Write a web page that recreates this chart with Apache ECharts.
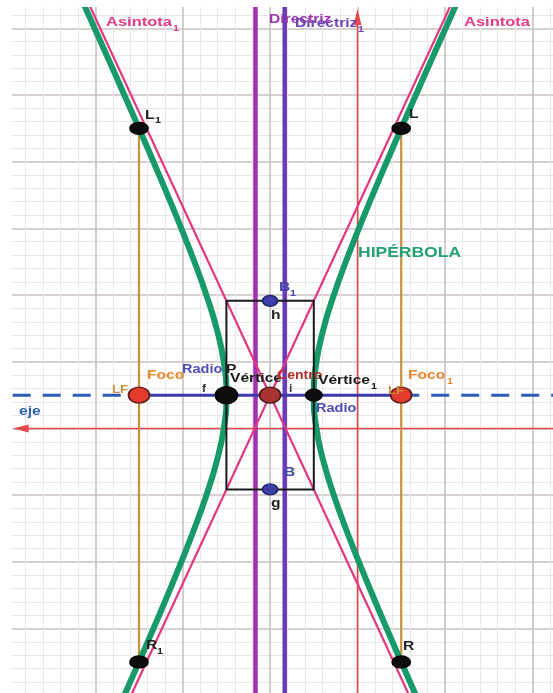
<!DOCTYPE html>
<html><head><meta charset="utf-8">
<script src="https://cdn.jsdelivr.net/npm/echarts@6/dist/echarts.min.js"></script>
<style>html,body{margin:0;padding:0;background:#fff}#c{width:553px;height:693px}</style>
</head><body><div id="c"></div>
<script>
// ---- data (grid units) ----
const center = [-1, 0.5];
const vertexP = [-1.5, 0.5];
const vertex1 = [-0.5, 0.5];
const foci = [[-2.5, 0.5], [0.5, 0.5]];
const coVertices = [[-1, 1.914], [-1, -0.914]];
const latusPoints = [[-2.5, 4.5], [0.5, 4.5], [-2.5, -3.5], [0.5, -3.5]];
const branchY = [-4, -3.5, -3, -2.5, -2, -1.5, -1, -0.5, 0, 0.5, 1, 1.5, 2, 2.5, 3, 3.5, 4, 4.5, 5, 5.5, 6, 6.5];
const rightBranchX = [0.668, 0.5, 0.335, 0.173, 0.016, -0.134, -0.271, -0.388, -0.470, -0.5, -0.470, -0.388, -0.271, -0.134, 0.016, 0.173, 0.335, 0.5, 0.668, 0.837, 1.008, 1.179];
const leftBranchX = [-2.668, -2.5, -2.335, -2.173, -2.016, -1.866, -1.729, -1.612, -1.530, -1.5, -1.530, -1.612, -1.729, -1.866, -2.016, -2.173, -2.335, -2.5, -2.668, -2.837, -3.008, -3.179];
const asintota = [[-2.591, -4], [1.121, 6.5]];
const asintota1 = [[-3.121, 6.5], [0.591, -4]];
const directrizX = -1.167;
const directriz1X = -0.833;
const boxCorners = [[-1.5, -0.914], [-0.5, -0.914], [-0.5, 1.914], [-1.5, 1.914], [-1.5, -0.914]];
const latusLeft = [[-2.5, -3.5], [-2.5, 4.5]];
const latusRight = [[0.5, -3.5], [0.5, 4.5]];
const ejeLeft = [[-3.945, 0.5], [-2.5, 0.5]];
const ejeRight = [[0.5, 0.5], [3, 0.5]];
const ejeMid = [[-2.5, 0.5], [0.5, 0.5]];
const axisXEnds = [[-3.853, 0], [3, 0]];
const axisYEnds = [[0, -4], [0, 6.17]];
const yMin = -4, yMax = 7;

const chart = echarts.init(document.getElementById('c'), null, {renderer: 'canvas'});
const zip = (xs, ys) => xs.map((x, i) => [x, ys[i]]);

function lineS(data, color, width, extra) {
  return Object.assign({
    type: 'line', data: data, showSymbol: false, symbol: 'none', silent: true,
    lineStyle: {color: color, width: width}, z: 2
  }, extra || {});
}
function pts(data, fill, size, border, z) {
  return {type: 'scatter', data: data, symbol: 'circle', symbolSize: size, silent: true, z: z || 10,
    itemStyle: {color: fill, borderColor: border, borderWidth: 1.5, opacity: 1}};
}

const series = [
  lineS([{value: axisXEnds[0], symbol: 'triangle', symbolRotate: 90, symbolSize: [8, 16]}, {value: axisXEnds[1], symbol: 'none'}],
    '#e8474d', 1.5, {showSymbol: true, itemStyle: {color: '#e8474d'}, z: 1}),
  lineS([{value: axisYEnds[0], symbol: 'none'}, {value: axisYEnds[1], symbol: 'triangle', symbolSize: [8, 16]}],
    '#e8474d', 1.5, {showSymbol: true, itemStyle: {color: '#e8474d'}, z: 1}),
  lineS(latusLeft, '#c8923c', 2.2),
  lineS(latusRight, '#c8923c', 2.2),
  lineS([[directrizX, yMin], [directrizX, yMax]], '#a032b2', 4.5, {z: 3}),
  lineS([[directriz1X, yMin], [directriz1X, yMax]], '#6a3ab8', 4.5, {z: 3}),
  lineS(zip(rightBranchX, branchY), '#17996a', 6, {smooth: true, z: 4}),
  lineS(zip(leftBranchX, branchY), '#17996a', 6, {smooth: true, z: 4}),
  lineS(asintota, '#e2367f', 2.2, {z: 5}),
  lineS(asintota1, '#e2367f', 2.2, {z: 5}),
  lineS(boxCorners, '#1a1a1a', 2, {z: 6}),
  lineS(ejeLeft, '#2c5db4', 3, {z: 6, lineStyle: {color: '#2c5db4', width: 3, type: [18, 12]}}),
  lineS(ejeRight, '#2c5db4', 3, {z: 6, lineStyle: {color: '#2c5db4', width: 3, type: [18, 12]}}),
  lineS(ejeMid, '#3a3aa8', 3, {z: 6}),
  pts(foci, '#e23a2c', [21, 16], '#5a1c1c', 10),
  pts([center], '#a83232', [21, 16], '#4a1a1a', 10),
  pts([vertexP], '#0d0d0d', [22, 17], '#000', 10),
  pts([vertex1], '#0d0d0d', [16, 12], '#000', 10),
  pts(coVertices, '#3b3ea6', [15, 11], '#22246a', 10),
  pts(latusPoints, '#0d0d0d', [18, 12], '#000', 10)
];

const LAB = 'bold 13px "Liberation Sans", Arial, sans-serif';
function txt(s, x, y, color, opt) {
  opt = opt || {};
  return {type: 'text', x: x, y: y, z: 110, silent: true,
    scaleX: opt.sx || 1.2,
    style: {text: s, fill: color, font: opt.font || LAB, verticalAlign: 'middle', align: 'left'}};
}
const SUB = 'bold 9px "Liberation Sans", Arial, sans-serif';
const SMALL = 'bold 10px "Liberation Sans", Arial, sans-serif';

const texts = [
  txt('Asintota', 106, 22, '#e23a87', {sx: 1.27}),
  txt('1', 173, 29, '#e23a87', {font: SUB}),
  txt('Asintota', 464, 22, '#e23a87', {sx: 1.27}),
  txt('Directriz', 269, 19, '#9a36aa', {sx: 1.2}),
  txt('Directriz', 295, 23, '#7044b4', {sx: 1.2}),
  txt('1', 358, 30, '#7044b4', {font: SUB}),
  txt('HIPÉRBOLA', 358, 253, '#22a072', {font: 'bold 14px "Liberation Sans", Arial, sans-serif', sx: 1.25}),
  txt('L', 145, 115, '#222', {}),
  txt('1', 155, 121, '#222', {font: SUB}),
  txt('L', 409, 114, '#222', {}),
  txt('R', 146, 645, '#222', {}),
  txt('1', 157, 652, '#222', {font: SUB}),
  txt('R', 403, 646, '#222', {}),
  txt('B', 279, 287, '#4848a8', {}),
  txt('1', 290, 294, '#4848a8', {font: SUB}),
  txt('h', 271, 315, '#222', {}),
  txt('B', 284, 472, '#4848a8', {}),
  txt('g', 271, 503, '#222', {}),
  txt('LF', 112, 390, '#c8903c', {font: 'bold 11px "Liberation Sans", Arial, sans-serif'}),
  txt('LF', 388, 391, '#c8903c', {font: 'bold 11px "Liberation Sans", Arial, sans-serif'}),
  txt('Foco', 147, 375, '#e8862e', {}),
  txt('Foco', 408, 375, '#e8862e', {}),
  txt('1', 447, 382, '#e8862e', {font: SUB}),
  txt('Radio', 182, 369, '#4d4db5', {sx: 1.12}),
  txt('P', 226, 369, '#222', {}),
  txt('f', 202, 389, '#333', {font: SMALL}),
  txt('i', 289, 389, '#333', {font: SMALL}),
  txt('Vértice', 230, 378, '#1a1a1a', {}),
  txt('Centro', 277, 375, '#b3302c', {sx: 1.08}),
  txt('Vértice', 318, 380, '#1a1a1a', {}),
  txt('1', 371, 387, '#1a1a1a', {font: SUB}),
  txt('Radio', 316, 408, '#4d4db5', {sx: 1.12}),
  txt('eje', 19, 411, '#3062b2', {})
];

const axisCommon = {
  type: 'value', interval: 1,
  axisLine: {show: false}, axisTick: {show: false}, axisLabel: {show: false},
  splitLine: {show: true, lineStyle: {color: '#cbc0c0', width: 1.6}},
  minorTick: {show: false, splitNumber: 5},
  minorSplitLine: {show: true, lineStyle: {color: '#ece7e7', width: 1}}
};

chart.setOption({
  animation: false,
  backgroundColor: '#ffffff',
  grid: {left: 7.9, top: -38.4, width: 611.8, height: 733.7, containLabel: false, outerBoundsMode: 'none'},
  xAxis: Object.assign({}, axisCommon, {min: -4, max: 3}),
  yAxis: Object.assign({}, axisCommon, {min: yMin, max: yMax}),
  series: series,
  graphic: [
    {type: 'rect', z: 100, silent: true, shape: {x: 0, y: 0, width: 12, height: 693}, style: {fill: '#ffffff'}},
    {type: 'rect', z: 100, silent: true, shape: {x: 0, y: 0, width: 553, height: 7}, style: {fill: '#ffffff'}}
  ].concat(texts)
});
</script></body></html>
